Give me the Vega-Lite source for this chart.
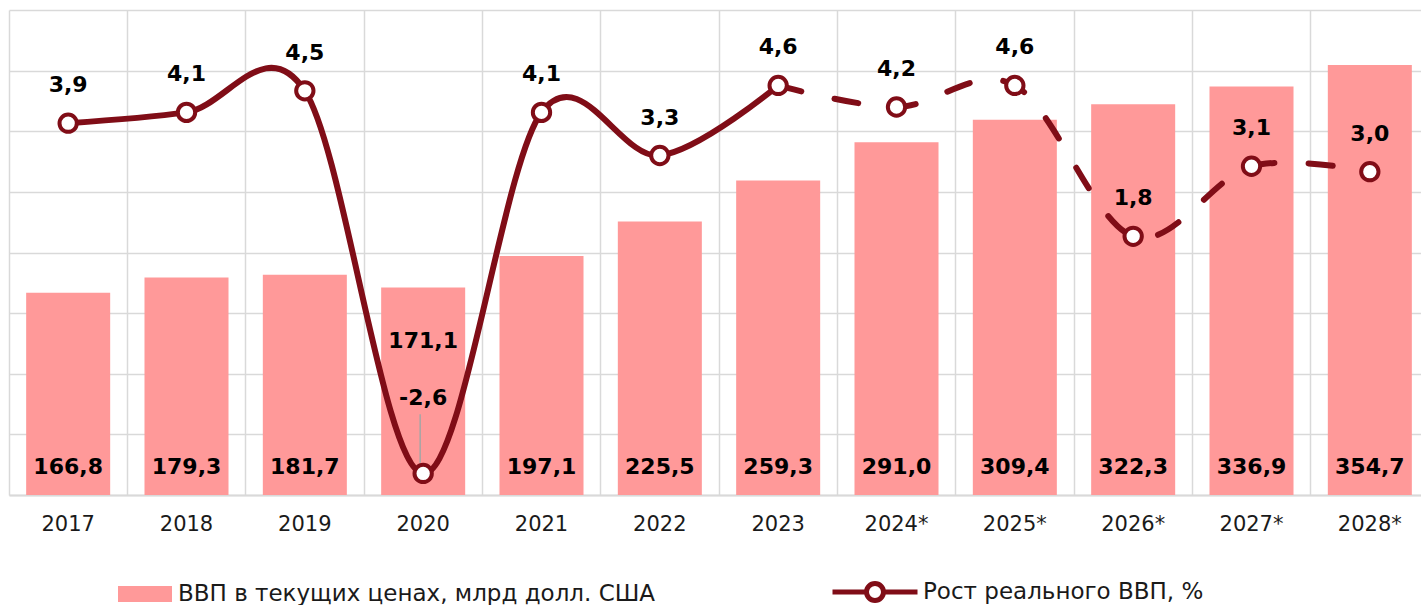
{
  "$schema": "https://vega.github.io/schema/vega-lite/v6.json",
  "autosize": "none",
  "width": 1420,
  "height": 485,
  "padding": {"left": 9, "top": 10, "right": 0, "bottom": 110},
  "config": {
    "view": {"stroke": null},
    "font": "DejaVu Sans",
    "locale": {"number": {"decimal": ",", "thousands": " ", "grouping": [3], "currency": ["", ""], "minus": "-"}}
  },
  "data": {
    "values": [
      {"year": "2017", "gdp": 166.8, "growth": 3.9},
      {"year": "2018", "gdp": 179.3, "growth": 4.1},
      {"year": "2019", "gdp": 181.7, "growth": 4.5},
      {"year": "2020", "gdp": 171.1, "growth": -2.6},
      {"year": "2021", "gdp": 197.1, "growth": 4.1},
      {"year": "2022", "gdp": 225.5, "growth": 3.3},
      {"year": "2023", "gdp": 259.3, "growth": 4.6},
      {"year": "2024*", "gdp": 291.0, "growth": 4.2},
      {"year": "2025*", "gdp": 309.4, "growth": 4.6},
      {"year": "2026*", "gdp": 322.3, "growth": 1.8},
      {"year": "2027*", "gdp": 336.9, "growth": 3.1},
      {"year": "2028*", "gdp": 354.7, "growth": 3.0}
    ]
  },
  "encoding": {
    "x": {
      "field": "year",
      "type": "ordinal",
      "sort": null,
      "scale": {"paddingInner": 0, "paddingOuter": 0},
      "axis": {
        "title": null,
        "bandPosition": 0,
        "grid": true,
        "gridColor": "#D9D9D9",
        "gridWidth": 1.5,
        "ticks": false,
        "labelAngle": 0,
        "labelFontSize": 21,
        "labelColor": "#1a1a1a",
        "labelPadding": 18,
        "domainColor": "#D9D9D9",
        "domainWidth": 2
      }
    }
  },
  "layer": [
    {
      "layer": [
        {
          "mark": {"type": "bar", "width": {"band": 0.71}},
          "encoding": {
            "y": {
              "field": "gdp",
              "type": "quantitative",
              "scale": {"domain": [0, 400], "nice": false},
              "axis": {
                "title": null,
                "labels": false,
                "ticks": false,
                "domain": false,
                "values": [0, 50, 100, 150, 200, 250, 300, 350, 400],
                "grid": true,
                "gridColor": "#D9D9D9",
                "gridWidth": 1.5
              }
            },
            "fill": {
              "datum": "ВВП в текущих ценах, млрд долл. США",
              "scale": {"range": ["#FF9999"]},
              "legend": {
                "title": null,
                "orient": "none",
                "legendX": 109,
                "legendY": 557,
                "symbolType": "M-1,-0.3H1V0.3H-1Z",
                "symbolSize": 2916,
                "symbolStrokeWidth": 0,
                "labelFontSize": 23,
                "labelOffset": 6,
                "labelColor": "#1a1a1a",
                "labelLimit": 800
              }
            }
          }
        },
        {
          "transform": [{"filter": "datum.year != '2020'"}],
          "mark": {"type": "text", "fontWeight": "bold", "fontSize": 22, "dy": -28, "baseline": "middle", "color": "#000000"},
          "encoding": {
            "y": {"datum": 0},
            "text": {"field": "gdp", "type": "quantitative", "format": ".1f"}
          }
        },
        {
          "transform": [{"filter": "datum.year == '2020'"}],
          "mark": {"type": "text", "fontWeight": "bold", "fontSize": 22, "dy": 53, "baseline": "middle", "color": "#000000"},
          "encoding": {
            "y": {"field": "gdp", "type": "quantitative"},
            "text": {"field": "gdp", "type": "quantitative", "format": ".1f"}
          }
        }
      ]
    },
    {
      "layer": [
        {
          "transform": [{"filter": {"field": "year", "oneOf": ["2017", "2018", "2019", "2020", "2021", "2022", "2023"]}}],
          "mark": {"type": "line", "interpolate": "cardinal", "strokeWidth": 6},
          "encoding": {
            "y": {
              "field": "growth",
              "type": "quantitative",
              "scale": {"domain": [-3, 6], "nice": false},
              "axis": null
            },
            "stroke": {
              "datum": "Рост реального ВВП, %",
              "scale": {"range": ["#800D17"]},
              "legend": {
                "title": null,
                "orient": "none",
                "legendX": 821,
                "legendY": 537,
                "symbolType": "M-1,0H-0.22M0.22,0H1M0.2,0A0.2,0.2,0,1,1,-0.2,0A0.2,0.2,0,1,1,0.2,0Z",
                "symbolSize": 7225,
                "symbolStrokeWidth": 5,
                "symbolFillColor": "#FFFFFF",
                "labelFontSize": 23,
                "labelOffset": 3,
                "labelColor": "#1a1a1a",
                "labelLimit": 800
              }
            }
          }
        },
        {
          "transform": [{"filter": {"field": "year", "oneOf": ["2023", "2024*", "2025*", "2026*", "2027*", "2028*"]}}],
          "mark": {"type": "line", "interpolate": "cardinal", "strokeWidth": 6, "color": "#800D17", "strokeDash": [24, 34], "strokeCap": "round"},
          "encoding": {
            "y": {"field": "growth", "type": "quantitative"}
          }
        },
        {
          "transform": [{"filter": "datum.year == '2020'"}],
          "mark": {"type": "rule", "color": "#A6A6A6", "strokeWidth": 1.5, "xOffset": -3},
          "encoding": {
            "y": {"datum": -1.5},
            "y2": {"datum": -2.4}
          }
        },
        {
          "mark": {"type": "point", "shape": "circle", "filled": true, "fill": "#FFFFFF", "stroke": "#800D17", "strokeWidth": 4, "size": 300, "opacity": 1},
          "encoding": {
            "y": {"field": "growth", "type": "quantitative"}
          }
        },
        {
          "transform": [{"filter": "datum.year != '2020'"}],
          "mark": {"type": "text", "fontWeight": "bold", "fontSize": 22, "dy": -38, "baseline": "middle", "color": "#000000"},
          "encoding": {
            "y": {"field": "growth", "type": "quantitative"},
            "text": {"field": "growth", "type": "quantitative", "format": ".1f"}
          }
        },
        {
          "transform": [{"filter": "datum.year == '2020'"}],
          "mark": {"type": "text", "fontWeight": "bold", "fontSize": 22, "dy": -75, "baseline": "middle", "color": "#000000"},
          "encoding": {
            "y": {"field": "growth", "type": "quantitative"},
            "text": {"field": "growth", "type": "quantitative", "format": ".1f"}
          }
        }
      ]
    }
  ],
  "resolve": {"scale": {"y": "independent"}}
}
